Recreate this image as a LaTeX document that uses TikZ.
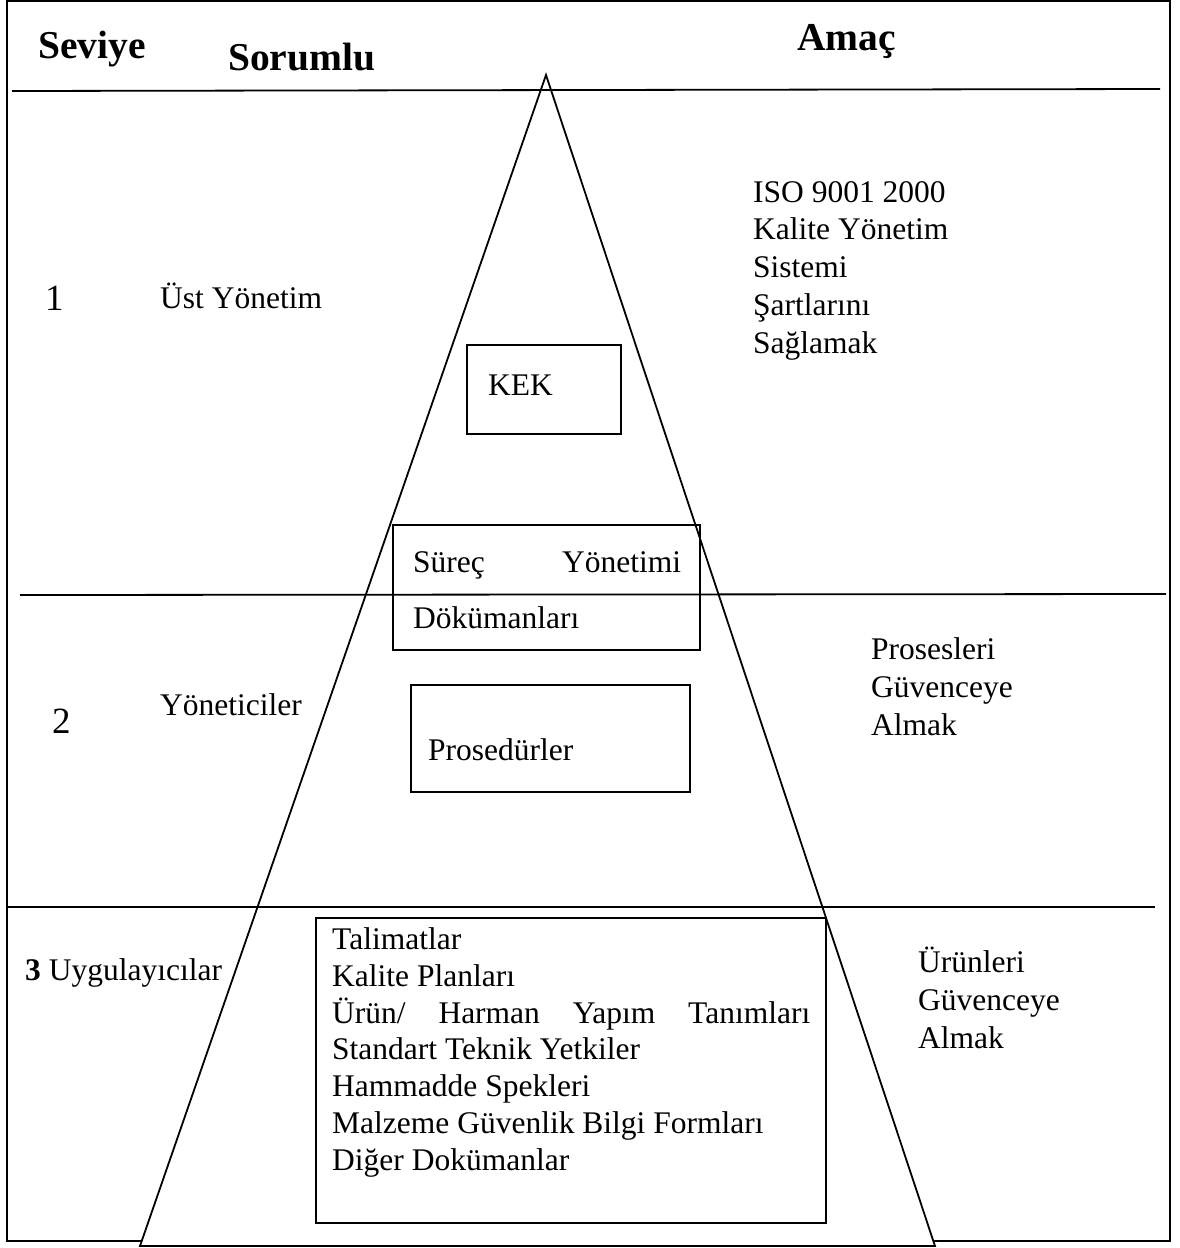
\documentclass[tikz,border=0pt]{standalone}
\usepackage{fontspec}
\setmainfont{Liberation Serif}
\begin{document}
\begin{tikzpicture}[x=1pt,y=-1pt,
  rule/.style={line width=1.8pt},
  boxline/.style={draw,line width=1.6pt},
  head/.style={anchor=base west,inner sep=0pt,font=\fontsize{39.5}{42}\selectfont\bfseries},
  body/.style={anchor=base west,inner sep=0pt,align=left,font=\fontsize{31.5}{37.7}\selectfont},
  listtext/.style={body,font=\fontsize{31.5}{36.7}\selectfont},
  num/.style={anchor=base west,inner sep=0pt,font=\fontsize{37}{40}\selectfont}]
\useasboundingbox (0,0) rectangle (1179,1248);

% outer frame
\draw[rule] (7,1) rectangle (1170,1241);

% pyramid
\coordinate (apex) at (546,75);
\coordinate (baseL) at (140,1246);
\coordinate (baseR) at (935,1246);
\filldraw[rule,fill=white] (apex) -- (baseL) -- (baseR) -- cycle;

% level separators
\coordinate (h1a) at (12,91);   \coordinate (h1b) at (1160,89);
\coordinate (h2a) at (20,595);  \coordinate (h2b) at (1166,594);
\coordinate (h3a) at (7,907);   \coordinate (h3b) at (1155,907);
\draw[rule] (h1a) -- (h1b);
\draw[rule] (h2a) -- (h2b);
\draw[rule] (h3a) -- (h3b);

% column headings
\node[head] (seviye) at (38,58) {Seviye};
\node[head] (sorumlu) at (228,70) {Sorumlu};
\node[head] (amac) at (797,50) {Amaç};

% level 1 (multi-line nodes are placed by the baseline of their last line)
\node[num] (n1) at (45,310) {1};
\node[body] (ust) at (160,308) {Üst Yönetim};
\node[body] (iso) at (753,353) {ISO 9001 2000\\Kalite Yönetim\\Sistemi\\Şartlarını\\Sağlamak};
\draw[boxline] (467,345) rectangle (621,434);
\node[body] (kek) at (488,395) {KEK};
\draw[boxline] (393,525) rectangle (700,650);
\node[body] (surec) at (413,628) {\makebox[268pt][s]{Süreç\hfill Yönetimi}\\[18pt]Dökümanları};

% level 2
\node[num] (n2) at (52,733) {2};
\node[body] (yon) at (160,715) {Yöneticiler};
\node[body] (pros) at (871,735) {Prosesleri\\Güvenceye\\Almak};
\draw[boxline] (411,685) rectangle (690,792);
\node[body] (prosed) at (428,760) {Prosedürler};

% level 3
\node[body] (uyg) at (25,980) {\textbf{3} Uygulayıcılar};
\draw[boxline] (316,918) rectangle (826,1223);
\node[listtext] (list) at (332,1170) {Talimatlar\\Kalite Planları\\\makebox[478pt][s]{Ürün/\hfill Harman\hfill Yapım\hfill Tanımları}\\Standart Teknik Yetkiler\\Hammadde Spekleri\\Malzeme Güvenlik Bilgi Formları\\Diğer Dokümanlar};
\node[body] (urun) at (918,1048) {Ürünleri\\Güvenceye\\Almak};
\end{tikzpicture}
\end{document}
